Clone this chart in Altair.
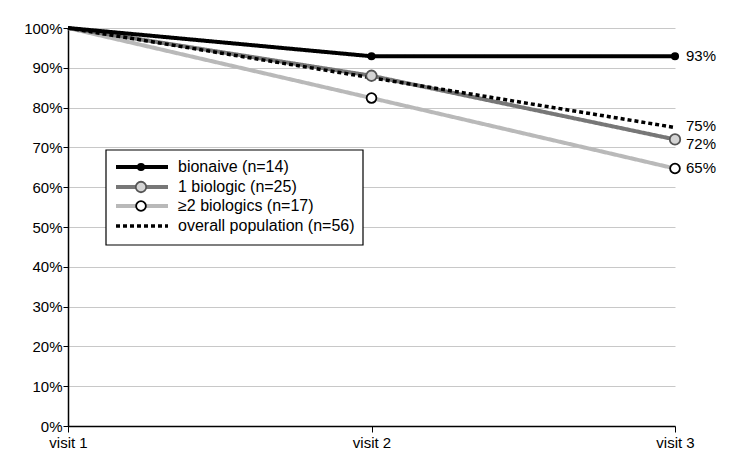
import altair as alt
import pandas as pd

visits = ["visit 1", "visit 2", "visit 3"]
series_names = ["bionaive (n=14)", "1 biologic (n=25)", "≥2 biologics (n=17)", "overall population (n=56)"]
bionaive = [1.0, 0.929, 0.929]
one_bio = [1.0, 0.88, 0.72]
two_bio = [1.0, 0.824, 0.647]
overall = [1.0, 0.875, 0.75]
end_labels = ["93%", "72%", "65%", "75%"]

values = [bionaive, one_bio, two_bio, overall]
rows = []
for s, vals in zip(series_names, values):
    for v, val in zip(visits, vals):
        rows.append({"series": s, "visit": v, "value": val})
df = pd.DataFrame(rows)

colors = ["#000000", "#777777", "#b9b9b9", "#000000"]
fills = ["#000000", "#d4d4d4", "#ffffff", "#000000"]
strokes_pt = ["#000000", "#555555", "#000000", "#000000"]
sizes = [40, 110, 95, 0]
dashes = [[1, 0], [1, 0], [1, 0], [4, 3]]
widths = [4, 4, 4, 3.5]

FONT = "Liberation Sans"
W, H = 607, 398

x = alt.X("visit:N", scale=alt.Scale(type="point", padding=0, domain=visits),
          axis=alt.Axis(title=None, labelFontSize=15, labelFont=FONT, labelColor="black",
                        domainColor="black", domainWidth=1.5, tickColor="black", tickSize=6,
                        labelAngle=0, grid=False, labelPadding=3,
                        labelAlign="center"))
y = alt.Y("value:Q", scale=alt.Scale(domain=[0, 1], nice=False),
          axis=alt.Axis(title=None, values=[i / 10 for i in range(11)], format=".0%",
                        labelFontSize=15, labelFont=FONT, labelColor="black",
                        domainColor="black", domainWidth=1.5, tickColor="black", tickSize=5,
                        labelPadding=1, gridColor="#c8c8c8", gridWidth=1))

base = alt.Chart(df)
layers = []
draw_order = [2, 1, 3, 0]
for i in draw_order:
    s = series_names[i]
    layers.append(base.transform_filter(alt.datum.series == s).mark_line(
        color=colors[i], strokeWidth=widths[i], strokeDash=dashes[i], clip=False
    ).encode(x=x, y=y))
for i in [2, 1, 0]:
    s = series_names[i]
    layers.append(base.transform_filter(
        (alt.datum.series == s) & (alt.datum.visit != "visit 1")
    ).mark_point(shape="circle", filled=True, fill=fills[i], stroke=strokes_pt[i],
                 strokeWidth=1.8, size=sizes[i], opacity=1).encode(x=x, y=y))

# end labels
label_df = pd.DataFrame({"series": series_names, "visit": "visit 3",
                         "value": [v[-1] for v in values], "label": end_labels})
dys = [0, 5, 0, -2]
for i in range(4):
    layers.append(alt.Chart(label_df).transform_filter(alt.datum.series == series_names[i]).mark_text(
        align="left", baseline="middle", dx=11, dy=dys[i], fontSize=15, font=FONT, color="black"
    ).encode(x=x, y=y, text="label:N"))

# manual legend
lx0, lx1, ly0, ly1 = 38, 295, 122, 217
row_y = [139, 159, 178, 198]
leg_rows = pd.DataFrame({"series": series_names})
layers.append(alt.Chart(pd.DataFrame({"a": [0]})).mark_rect(
    fill="white", stroke="black", strokeWidth=1.2
).encode(x=alt.value(lx0), x2=alt.value(lx1), y=alt.value(ly0), y2=alt.value(ly1)))
for i in range(4):
    d = leg_rows.iloc[[i]]
    layers.append(alt.Chart(d).mark_rule(
        color=colors[i], strokeWidth=widths[i], strokeDash=dashes[i]
    ).encode(x=alt.value(48), x2=alt.value(100), y=alt.value(row_y[i])))
    if sizes[i] > 0:
        layers.append(alt.Chart(d).mark_point(
            shape="circle", filled=True, fill=fills[i], stroke=strokes_pt[i],
            strokeWidth=1.8, size=sizes[i], opacity=1
        ).encode(x=alt.value(73), y=alt.value(row_y[i])))
    layers.append(alt.Chart(d).mark_text(
        align="left", baseline="middle", fontSize=16, font=FONT, color="black"
    ).encode(x=alt.value(110), y=alt.value(row_y[i]), text="series:N"))

chart = alt.layer(*layers).properties(
    width=W, height=H,
    autosize=alt.AutoSizeParams(type="none"),
    padding={"left": 60, "top": 20, "right": 55, "bottom": 30},
    background="white",
).configure_view(stroke=None).configure_axis(labelFont=FONT)

chart.save("out.html", embed_options={"renderer": "svg", "actions": False})
